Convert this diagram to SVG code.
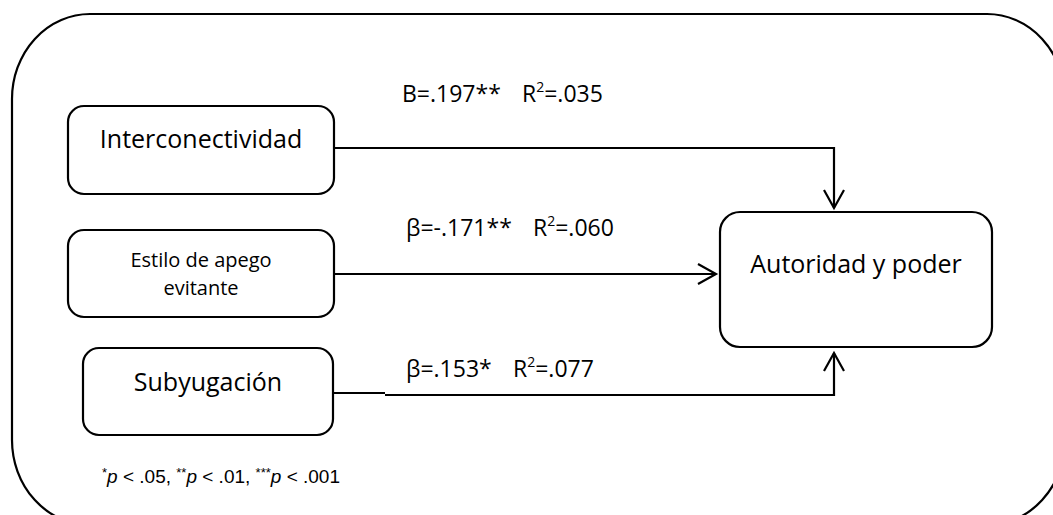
<svg xmlns="http://www.w3.org/2000/svg" width="1053" height="515" viewBox="0 0 1053 515">
  <style>
    .frame { fill: none; stroke: #000; stroke-width: 2.2; }
    .box { fill: #fff; stroke: #000; stroke-width: 2.2; }
    .link { fill: none; stroke: #000; stroke-width: 2.2; }
    .lbl { font-family: "Open Sans", "Noto Sans", sans-serif; fill: #000; }
    .big { font-size: 25px; }
    .small { font-size: 20px; }
    .coef { font-size: 23px; }
    .note { font-family: "Liberation Sans", Arial, sans-serif; font-size: 19px; fill: #000; }
  </style>
  <defs>
    <marker id="arrow" markerUnits="userSpaceOnUse" markerWidth="24" markerHeight="24" viewBox="-20 -12 24 24" refX="0" refY="0" orient="auto">
      <path d="M-18,-10 L0,0 L-18,10" fill="none" stroke="#000" stroke-width="2.2"/>
    </marker>
  </defs>
  <rect width="1053" height="515" fill="#fff"/>

  <!-- outer rounded frame -->
  <path class="frame" d="M90,14 L987,14 A78,85 0 0 1 1065,99 L1065,440 A78,85 0 0 1 987,525 L90,525 A78,85 0 0 1 12,440 L12,99 A78,85 0 0 1 90,14 Z"/>

  <!-- connectors -->
  <g id="connectors">
    <path class="link" d="M334,148 L834,148 L834,208" marker-end="url(#arrow)"/>
    <path class="link" d="M334,274 L716,274" marker-end="url(#arrow)"/>
    <path class="link" d="M333,393 L385,393"/>
    <path class="link" d="M385,395 L834,395 L834,353" marker-end="url(#arrow)"/>
  </g>

  <!-- path coefficients -->
  <g id="labels">
    <text class="lbl coef" x="402" y="102">B=.197**</text>
    <text class="lbl coef" x="522" y="102">R<tspan font-size="14" dy="-10">2</tspan><tspan dy="10">=.035</tspan></text>
    <text class="lbl coef" x="406" y="236">β=-.171**</text>
    <text class="lbl coef" x="533" y="236">R<tspan font-size="14" dy="-10">2</tspan><tspan dy="10">=.060</tspan></text>
    <text class="lbl coef" x="406" y="377">β=.153*</text>
    <text class="lbl coef" x="513" y="377">R<tspan font-size="14" dy="-10">2</tspan><tspan dy="10">=.077</tspan></text>
  </g>

  <g id="node-interconectividad">
    <rect class="box" x="68" y="106" width="266" height="88" rx="16"/>
    <text class="lbl big" x="201" y="148" text-anchor="middle">Interconectividad</text>
  </g>

  <g id="node-estilo-apego">
    <rect class="box" x="68" y="230" width="266" height="87" rx="16"/>
    <text class="lbl small" x="201" y="267" text-anchor="middle">Estilo de apego</text>
    <text class="lbl small" x="201" y="295" text-anchor="middle">evitante</text>
  </g>

  <g id="node-subyugacion">
    <rect class="box" x="83" y="348" width="250" height="87" rx="16"/>
    <text class="lbl big" x="208" y="391" text-anchor="middle">Subyugación</text>
  </g>

  <g id="node-autoridad">
    <rect class="box" x="720" y="212" width="272" height="135" rx="20"/>
    <text class="lbl big" x="856" y="273" text-anchor="middle">Autoridad y poder</text>
  </g>

  <!-- significance note -->
  <text class="note" x="102" y="483"><tspan font-size="13" dy="-6">*</tspan><tspan dy="6" font-style="italic">p</tspan> &lt; .05, <tspan font-size="13" dy="-6">**</tspan><tspan dy="6" font-style="italic">p</tspan> &lt; .01, <tspan font-size="13" dy="-6">***</tspan><tspan dy="6" font-style="italic">p</tspan> &lt; .001</text>
</svg>
